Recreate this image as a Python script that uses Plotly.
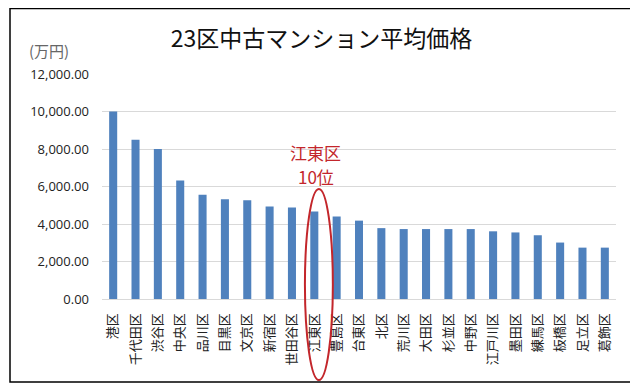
import plotly.graph_objects as go

categories = ["港区", "千代田区", "渋谷区", "中央区", "品川区", "目黒区", "文京区", "新宿区",
              "世田谷区", "江東区", "豊島区", "台東区", "北区", "荒川区", "大田区", "杉並区",
              "中野区", "江戸川区", "墨田区", "練馬区", "板橋区", "足立区", "葛飾区"]
prices = [10000, 8500, 8000, 6320, 5560, 5320, 5270, 4940,
          4880, 4670, 4400, 4180, 3780, 3730, 3730, 3730,
          3730, 3610, 3550, 3400, 3010, 2740, 2740]
y_ticks = [0, 2000, 4000, 6000, 8000, 10000, 12000]
title_text = "23区中古マンション平均価格"
unit_text = "(万円)"
highlight = "江東区"
highlight_lines = ["江東区", "10位"]

OFF = 8  # page body margin
W, H = 638 - OFF, 387 - OFF
PW, PH = 514, 225
ML, MT = 102 - OFF, 74 - OFF
MR = W - ML - PW
MB = H - MT - PH
N = len(categories)

def px_x(px):
    return (px - OFF - ML) / PW

def px_y(py):
    return (MT + PH - (py - OFF)) / PH

fig = go.Figure(go.Bar(
    x=categories, y=prices,
    marker=dict(color="#4F81BD", line=dict(width=0)),
    hoverinfo="x+y",
))

idx = categories.index(highlight)
red = "#C3262B"

annotations = [
    dict(text=unit_text, xref="paper", yref="paper",
         x=px_x(27), y=px_y(50), xanchor="left", yanchor="middle",
         showarrow=False,
         font=dict(family="Noto Sans CJK JP", size=15, color="#666666")),
]
for line_text, py in zip(highlight_lines, [152, 176]):
    annotations.append(dict(
        text=line_text, xref="paper", yref="paper",
        x=(idx + 0.5) / N + 1.5 / PW, y=px_y(py), xanchor="center", yanchor="middle",
        showarrow=False,
        font=dict(family="Noto Sans CJK JP", size=17, color=red)))

fig.update_layout(
    width=W, height=H,
    margin=dict(l=ML, r=MR, t=MT, b=MB),
    paper_bgcolor="white", plot_bgcolor="white",
    bargap=0.64,
    showlegend=False,
    title=dict(text=title_text, xref="container", yref="container",
               x=(321.5 - OFF) / W, y=1 - (39 - OFF) / H, xanchor="center", yanchor="middle",
               font=dict(family="Noto Sans CJK JP", size=23, color="#111111")),
    xaxis=dict(
        type="category", tickangle=-90, showgrid=False,
        showline=True, linecolor="#D9D9D9", linewidth=1,
        ticks="", ticklabelstandoff=8,
        tickfont=dict(family="Noto Sans CJK JP", size=13, color="#222222"),
    ),
    yaxis=dict(
        range=[0, 12000], tickvals=y_ticks, tickformat=",.2f",
        showgrid=True, gridcolor="#D9D9D9", gridwidth=1,
        zeroline=True, zerolinecolor="#D9D9D9", zerolinewidth=1,
        showline=False, ticks="", ticklabelstandoff=12,
        tickfont=dict(family="Open Sans", size=13, color="#222222"),
    ),
    annotations=annotations,
    shapes=[
        dict(type="rect", xref="paper", yref="paper",
             x0=px_x(10), x1=px_x(633), y0=px_y(382), y1=px_y(8.5),
             line=dict(color="black", width=1.5), fillcolor="rgba(0,0,0,0)"),
        dict(type="circle", xref="paper", yref="paper",
             x0=(idx + 0.08) / N, x1=(idx + 1.33) / N,
             y0=px_y(380), y1=px_y(189),
             line=dict(color=red, width=2), fillcolor="rgba(0,0,0,0)"),
    ],
)

fig.write_html("out.html")
